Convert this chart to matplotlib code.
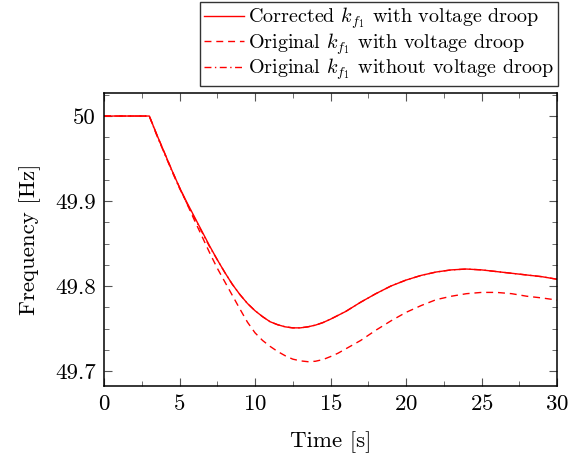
import numpy as np
import matplotlib
matplotlib.use("Agg")
import matplotlib.pyplot as plt
from matplotlib.ticker import MultipleLocator

plt.rcParams['font.family'] = 'cmr10'
plt.rcParams['mathtext.fontset'] = 'cm'
plt.rcParams['axes.formatter.use_mathtext'] = True

# time axis [s]: half-second steps through the dip, whole seconds after
t = [0, 1, 2, 3, 3.5, 4, 4.5, 5, 5.5, 6, 6.5, 7, 7.5, 8, 8.5, 9, 9.5, 10,
     10.5, 11, 11.5, 12, 12.5, 13, 13.5, 14, 14.5, 15, 15.5, 16,
     17, 18, 19, 20, 21, 22, 23, 24, 25, 26, 27, 28, 29, 30]

# corrected k_f1 with voltage droop [Hz]
f_corrected = [50.000, 50.000, 50.000, 50.000, 49.978, 49.957, 49.936, 49.916,
               49.898, 49.881, 49.864, 49.847, 49.831, 49.816, 49.802, 49.790,
               49.7795, 49.771, 49.764, 49.758, 49.7545, 49.752, 49.7508, 49.7508,
               49.752, 49.754, 49.757, 49.761, 49.7655, 49.770,
               49.781, 49.791, 49.800, 49.807, 49.8125, 49.8165, 49.819, 49.820,
               49.819, 49.817, 49.815, 49.813, 49.811, 49.808]

# original k_f1 with voltage droop [Hz]
f_orig_droop = [50.000, 50.000, 50.000, 50.000, 49.978, 49.957, 49.936, 49.916,
                49.8965, 49.877, 49.858, 49.839, 49.821, 49.805, 49.789, 49.773,
                49.7575, 49.745, 49.736, 49.729, 49.723, 49.718, 49.714, 49.712,
                49.711, 49.7115, 49.7135, 49.717, 49.721, 49.726,
                49.736, 49.748, 49.759, 49.769, 49.777, 49.784, 49.788, 49.791,
                49.7925, 49.7925, 49.791, 49.788, 49.786, 49.7835]

# original k_f1 without voltage droop [Hz]
f_orig_nodroop = [50.000, 50.000, 50.000, 50.000, 49.977, 49.956, 49.935, 49.915,
                  49.897, 49.880, 49.863, 49.846, 49.831, 49.816, 49.802, 49.790,
                  49.7795, 49.771, 49.764, 49.758, 49.7545, 49.752, 49.7508, 49.7508,
                  49.752, 49.754, 49.757, 49.761, 49.7655, 49.770,
                  49.781, 49.791, 49.800, 49.807, 49.8125, 49.8165, 49.819, 49.820,
                  49.819, 49.817, 49.815, 49.813, 49.811, 49.808]

fig = plt.figure(figsize=(5.84, 4.53), dpi=100)
ax = fig.add_axes([104/584, 67/453, 453/584, 293/453])

red = '#ff0000'
ax.plot(t, f_corrected, color=red, lw=1.0,
        label=r'Corrected $k_{f_1}$ with voltage droop')
ax.plot(t, f_orig_droop, color=red, lw=1.0, dashes=(5, 3.5),
        label=r'Original $k_{f_1}$ with voltage droop')
ax.plot(t, f_orig_nodroop, color=red, lw=1.0, dashes=(5, 2.5, 1, 2.5),
        label=r'Original $k_{f_1}$ without voltage droop')

ax.set_xlim(0, 30)
ax.set_ylim(49.6824, 50.0271)
ax.xaxis.set_major_locator(MultipleLocator(5))
ax.xaxis.set_minor_locator(MultipleLocator(2.5))
ax.yaxis.set_minor_locator(MultipleLocator(0.025))
ax.set_yticks([49.7, 49.8, 49.9, 50.0])
ax.set_yticklabels(['49.7', '49.8', '49.9', '50'])

ax.tick_params(which='both', direction='in', top=True, right=True,
               color='#555555', labelsize=16.5, pad=6)
ax.tick_params(which='major', length=6, width=0.8)
ax.tick_params(which='minor', length=3.5, width=0.6)
for sp in ax.spines.values():
    sp.set_linewidth(1.1)

ax.set_xlabel('Time [s]', fontsize=16.5, labelpad=12)
ax.set_ylabel('Frequency [Hz]', fontsize=16.5, labelpad=10)

leg = fig.legend(loc='upper right', bbox_to_anchor=(558/584, 1 - 1.5/453),
                 fontsize=14.5, frameon=True, fancybox=False,
                 handlelength=2.0, handletextpad=0.2, borderpad=0.2,
                 labelspacing=0.0, borderaxespad=0)
leg.get_frame().set_edgecolor('black')
leg.get_frame().set_linewidth(1.0)

fig.savefig('out.png', dpi=100)
